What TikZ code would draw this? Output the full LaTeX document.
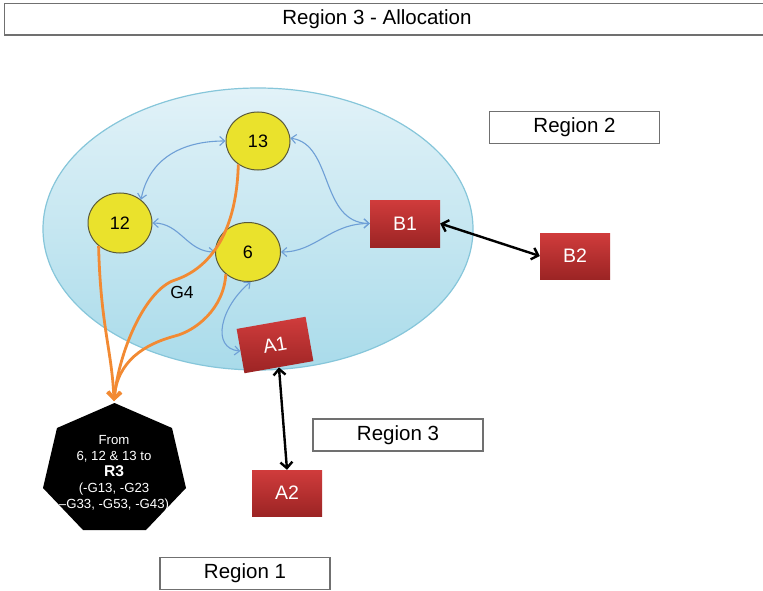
\documentclass[tikz,border=0pt]{standalone}
\usepackage{fontspec}
\setmainfont{Liberation Sans}
\usetikzlibrary{arrows.meta,shapes.geometric}

\definecolor{frame}{HTML}{707070}
\definecolor{poolTop}{HTML}{E2F2F8}
\definecolor{poolBot}{HTML}{A9DBEA}
\definecolor{poolEdge}{HTML}{86C6DA}
\definecolor{genFill}{HTML}{EAE22C}
\definecolor{genEdge}{HTML}{5A5A3A}
\definecolor{busTop}{HTML}{D03C3C}
\definecolor{busBot}{HTML}{9C2424}
\definecolor{flow}{HTML}{6E9FD6}
\definecolor{feed}{HTML}{F28A33}

\tikzset{
  regionbox/.style={draw=frame, line width=1.4pt, fill=white, minimum width=170pt,
    minimum height=32pt, inner sep=0pt, font=\fontsize{20.5}{24}\selectfont},
  gen/.style={ellipse, draw=genEdge, line width=1pt, fill=genFill, inner sep=0pt,
    font=\fontsize{18}{20}\selectfont},
  bus/.style={rectangle, top color=busTop, bottom color=busBot, draw=none,
    minimum width=70pt, minimum height=46pt, inner sep=0pt, text=white,
    font=\fontsize{19.5}{22}\selectfont},
  link/.style={draw=flow, line width=1.1pt,
    {Straight Barb[length=5pt,width=9pt]}-{Straight Barb[length=5pt,width=9pt]}},
  tie/.style={draw=black, line width=2.4pt,
    {Straight Barb[length=6pt,width=12pt]}-{Straight Barb[length=6pt,width=12pt]}},
  feedline/.style={draw=feed, line width=2.8pt, -{Straight Barb[length=7pt,width=13pt]}},
}

\begin{document}
\begin{tikzpicture}[x=1pt,y=-1pt]
\useasboundingbox (0,0) rectangle (763,591);
\fill[white] (0,0) rectangle (763,591);

% header bar, open on the right
\draw[frame, line width=1.4pt] (763,3.5) -- (4.5,3.5) -- (4.5,35) -- (763,35);
\node[font=\fontsize{20.5}{24}\selectfont] (title) at (377,19) {Region 3 - Allocation};

% region 2 area
\node[ellipse, minimum width=430pt, minimum height=282pt, top color=poolTop,
      bottom color=poolBot, draw=poolEdge, line width=1.2pt] (pool) at (258,229) {};

% region labels
\node[regionbox] (reg2) at (574.5,127.5) {Region 2};
\node[regionbox] (reg3) at (398,435) {Region 3};
\node[regionbox] (reg1) at (245,573.5) {Region 1};

% generators
\node[gen, minimum width=64pt, minimum height=58pt] (n13) at (258,141) {13};
\node[gen, minimum width=64pt, minimum height=60pt] (n12) at (120,223) {12};
\node[gen, minimum width=65pt, minimum height=59pt] (n6) at (248,252) {6};

% buses
\node[bus, minimum height=47pt] (B1) at (405,223.5) {B1};
\node[bus] (B2) at (575,256) {B2};
\node[bus, minimum height=45pt, rotate=10] (A1) at (275,345) {A1};
\node[bus] (A2) at (287,493) {A2};

% collecting node for region 3
\fill[black] (114.5,403) -- (172,428) -- (186,488) -- (146,530) -- (83,530)
  -- (43,488) -- (57,428) -- cycle;
\coordinate (r3top) at (114,401);
\node[text=white, align=center, font=\fontsize{13.2}{16}\selectfont] (r3) at (114,473)
  {From\\6, 12 \& 13 to\\{\fontsize{15.6}{16}\selectfont\bfseries R3}\\(-G13, -G23\\–G33, -G53, -G43)};

% internal flows
\draw[link] (n12.48) .. controls +(8,-40) and +(-45,0) .. (n13.west);
\draw[link] (n13.5) .. controls +(43,6) and +(-50,-1) .. (B1.west);
\draw[link] (n6.east) .. controls +(35,0) and +(-40,0) .. (B1.west);
\draw[link] (n12.east) .. controls +(28,0) and +(-28,0) .. (n6.west);
\draw[link] (n6.-85) .. controls +(-30,25) and +(-30,-3) .. (A1.west);

% interconnections
\draw[tie] (B1.east) -- (B2.west);
\draw[tie] (A1.south) -- (A2.north);

% feeds to region 3
\draw[feedline] (n12.-133) .. controls +(2,80) and +(-2,-50) .. (r3top);
\draw[feedline] (n13.-130) .. controls +(-2,75) and +(30,-10) .. (175,280)
  .. controls +(-30,10) and +(5,-50) .. (r3top);
\draw[feedline] (n6.-135) .. controls +(-2,35) and +(20,-5) .. (175,336)
  .. controls +(-30,8) and +(3,-40) .. (r3top);
\node[font=\fontsize{17.5}{20}\selectfont] (g4) at (182,292) {G4};
\end{tikzpicture}
\end{document}
